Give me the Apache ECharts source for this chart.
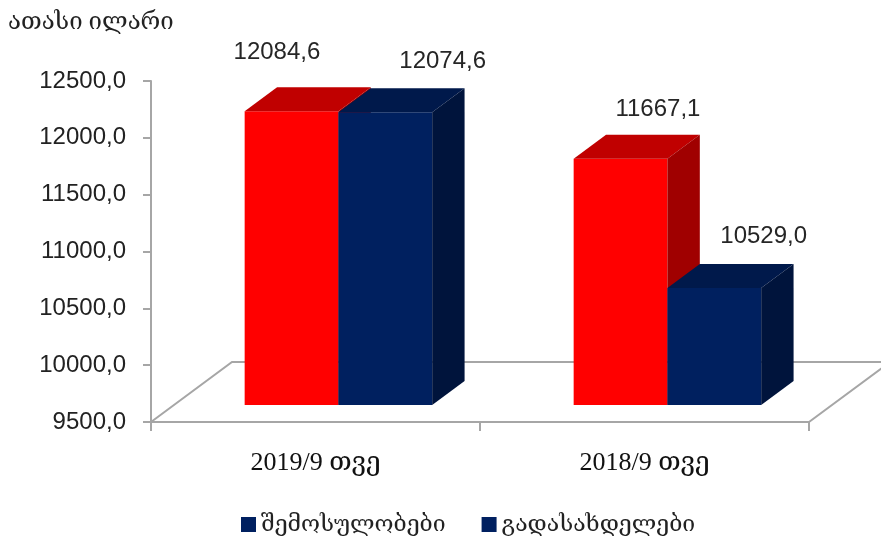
<!DOCTYPE html>
<html><head><meta charset="utf-8">
<script src="https://cdn.jsdelivr.net/npm/echarts@6/dist/echarts.min.js"></script>
<style>html,body{margin:0;padding:0;background:#fff}#c{width:881px;height:538px}</style>
</head><body><div id="c"></div>
<script>
// ---- data ----
const categories = ['2019/9 თვე', '2018/9 თვე'];
const seriesNames = ['შემოსულობები', 'გადასახდელები'];
const revenues = [12084.6, 11667.1];
const payments = [12074.6, 10529.0];
const yMin = 9500, yMax = 12500, yStep = 500;
const unitTitle = 'ათასი ილარი';

// ---- styling (not data) ----
const palettes = [
  {front: '#FF0000', top: '#C00000', side: '#A00000'},
  {front: '#00205F', top: '#00194B', side: '#00143C'}
];
const labelNudge = [[[-47, -35], [5, -25]], [[25, -27], [17, -28]]];
const FLOOR_DX = 81, FLOOR_DY = -60;   // full floor depth
const FRONT_F = 0.283, BACK_F = 0.683;  // bar depth fraction
const BAR_FRAC = 0.285;
const fmt = v => v.toFixed(1).replace('.', ',');
const geoSerif = "'Liberation Serif','DejaVu Serif',serif";
const numFont = "'Liberation Sans','DejaVu Sans',sans-serif";

function barRender(sIdx) {
  const pal = palettes[sIdx];
  return function (params, api) {
    const cat = api.value(0), val = api.value(1);
    const band = api.size([1, 0])[0];
    const base = api.coord([cat, yMin]);
    const top = api.coord([cat, val]);
    const w = band * BAR_FRAC;
    const fx = FLOOR_DX * FRONT_F, fy = FLOOR_DY * FRONT_F;
    const dx = FLOOR_DX * (BACK_F - FRONT_F), dy = FLOOR_DY * (BACK_F - FRONT_F);
    const x0 = base[0] - w + sIdx * w + fx;
    const x1 = x0 + w;
    const ty = top[1] + fy, by = base[1] + fy;
    const nudge = labelNudge[sIdx][params.dataIndex];
    return {
      type: 'group',
      children: [
        {type: 'rect', shape: {x: x0, y: ty, width: w, height: by - ty}, style: {fill: pal.front}},
        {type: 'polygon', shape: {points: [[x0, ty], [x1, ty], [x1 + dx, ty + dy], [x0 + dx, ty + dy]]}, style: {fill: pal.top}},
        {type: 'polygon', shape: {points: [[x1, ty], [x1 + dx, ty + dy], [x1 + dx, by + dy], [x1, by]]}, style: {fill: pal.side}},
        {type: 'text', x: x0 + dx + w / 2 + nudge[0], y: ty + dy + nudge[1],
         style: {text: fmt(val), align: 'center', verticalAlign: 'middle', fontSize: 24, fontFamily: numFont, fill: '#262626'}}
      ]
    };
  };
}

function floorRender(params, api) {
  const band = api.size([1, 0])[0];
  const c0 = api.coord([0, yMin]);
  const cN = api.coord([categories.length - 1, yMin]);
  const left = c0[0] - band / 2, right = cN[0] + band / 2, y = c0[1];
  const st = {stroke: '#A6A6A6', lineWidth: 2, fill: null};
  return {
    type: 'group',
    children: [
      {type: 'polyline', shape: {points: [[left, y], [left + FLOOR_DX, y + FLOOR_DY], [right + FLOOR_DX, y + FLOOR_DY], [right, y]]}, style: st}
    ]
  };
}

const chart = echarts.init(document.getElementById('c'), null, {renderer: 'canvas'});
chart.setOption({
  animation: false,
  backgroundColor: '#fff',
  title: {text: unitTitle, left: 3, top: 6, textStyle: {fontSize: 24, fontWeight: 'normal', fontFamily: geoSerif, color: '#222'}},
  grid: {left: 151, right: 72, top: 81, bottom: 116},
  xAxis: {
    type: 'category', data: categories, boundaryGap: true,
    axisLine: {lineStyle: {color: '#A6A6A6', width: 2}},
    axisTick: {show: true, length: 9, lineStyle: {color: '#A6A6A6', width: 2}},
    axisLabel: {fontSize: 26, fontFamily: geoSerif, color: '#111', margin: 28}
  },
  yAxis: {
    type: 'value', min: yMin, max: yMax, interval: yStep,
    axisLine: {show: true, lineStyle: {color: '#A6A6A6', width: 2}},
    axisTick: {show: true, length: 8, lineStyle: {color: '#A6A6A6', width: 2}},
    splitLine: {show: false},
    axisLabel: {fontSize: 24, fontFamily: numFont, color: '#222', margin: 25, formatter: v => fmt(v)}
  },
  legend: {
    data: seriesNames.map(n => ({name: n, itemStyle: {color: '#002060'}})),
    left: 236, top: 508, icon: 'rect', itemWidth: 15, itemHeight: 15, itemGap: 36,
    textStyle: {fontSize: 23, fontFamily: geoSerif, color: '#222'}
  },
  series: [
    {type: 'custom', name: '_floor', renderItem: floorRender, data: [[0, yMin]], z: 1, silent: true},
    {type: 'custom', name: seriesNames[0], renderItem: barRender(0), data: categories.map((c, i) => [i, revenues[i]]), z: 2, itemStyle: {color: palettes[0].front}},
    {type: 'custom', name: seriesNames[1], renderItem: barRender(1), data: categories.map((c, i) => [i, payments[i]]), z: 3, itemStyle: {color: palettes[1].front}}
  ]
});
</script></body></html>
